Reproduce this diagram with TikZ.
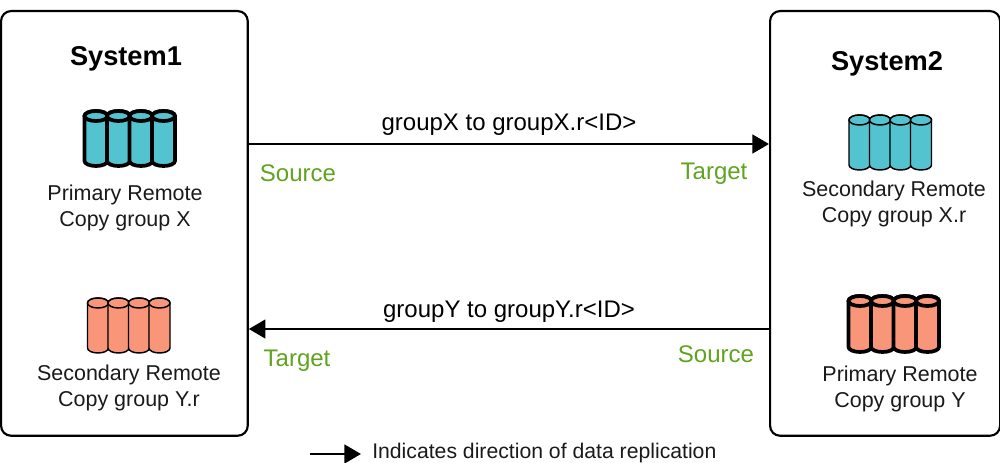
\documentclass[tikz,border=0pt]{standalone}
\usepackage{fontspec}
\setmainfont{Liberation Sans}
\usetikzlibrary{arrows.meta}
\definecolor{cyancyl}{HTML}{52C3CF}
\definecolor{salmoncyl}{HTML}{F9967A}
\definecolor{greenlab}{HTML}{5FA31E}
\definecolor{inkc}{HTML}{1A1A1A}
\tikzset{
  sysbox/.style={draw=black,line width=1.6pt,rounded corners=7.5pt,fill=white,inner sep=0pt,anchor=north west},
  title/.style={font=\fontsize{20.4}{22}\selectfont\bfseries,text=black,inner sep=0pt},
  lab/.style={font=\fontsize{16.1}{19.5}\selectfont,text=inkc,align=center,inner sep=0pt},
  role/.style={font=\fontsize{18}{20}\selectfont,text=greenlab,inner sep=0pt},
  flow/.style={font=\fontsize{18}{20}\selectfont,text=black,inner sep=0pt},
  note/.style={font=\fontsize{15.9}{18}\selectfont,text=inkc,inner sep=0pt,anchor=west},
  conn/.style={draw=black,line width=2pt,-{Triangle[length=12.5pt,width=14pt]}},
}
% \cylrow{left}{top}{pitch}{width}{height}{colour}{line width}
\newcommand{\cylrow}[7]{%
  \foreach \i in {0,1,2,3}{%
    \pgfmathsetmacro{\xl}{#1+\i*#3}%
    \pgfmathsetmacro{\xr}{\xl+#4}%
    \pgfmathsetmacro{\xm}{\xl+#4/2}%
    \pgfmathsetmacro{\yt}{#2+5}%
    \pgfmathsetmacro{\yb}{#2+#5-5}%
    \draw[draw=black,line width=#7,fill=#6,line join=round]
      (\xl,\yt) -- (\xl,\yb) arc[start angle=180,end angle=0,x radius=#4/2,y radius=5]
      -- (\xr,\yt) arc[start angle=0,end angle=-180,x radius=#4/2,y radius=5] -- cycle;
    \draw[draw=black,line width=#7,fill=#6]
      (\xm,\yt) ellipse[x radius=#4/2,y radius=5];
  }%
}
\begin{document}
\begin{tikzpicture}[x=0.75pt,y=-0.75pt]
\useasboundingbox (0,0) rectangle (1000,463);
\node[sysbox,minimum width=185pt,minimum height=318.5pt] (sys1) at (0,10) {};
\node[sysbox,minimum width=172.5pt,minimum height=318.5pt] (sys2) at (769,10) {};
\node[title] (t1) at (126,59) {System1};
\node[title] (t2) at (887,64) {System2};
\cylrow{84.5}{111}{22.5}{23}{55}{cyancyl}{2.8pt}
\cylrow{87.5}{298}{20.5}{21}{55}{salmoncyl}{1.1pt}
\cylrow{849}{115}{20.5}{21}{55}{cyancyl}{1.1pt}
\cylrow{848.5}{296}{22.5}{23}{56}{salmoncyl}{2.8pt}
\node[lab] (l1) at (125,208) {Primary Remote\\Copy group X};
\node[lab] (l2) at (129,388) {Secondary Remote\\Copy group Y.r};
\node[lab] (l3) at (894,203.5) {Secondary Remote\\Copy group X.r};
\node[lab] (l4) at (900,389) {Primary Remote\\Copy group Y};
\coordinate (a1) at (sys1.east |- 0,144);
\coordinate (a2) at (sys2.west |- 0,144);
\coordinate (b1) at (sys2.west |- 0,329);
\coordinate (b2) at (sys1.east |- 0,329);
\draw[conn] (a1) -- (a2);
\draw[conn] (b1) -- (b2);
\node[flow] (f1) at (509,125) {groupX to groupX.r<ID>};
\node[flow] (f2) at (509,312) {groupY to groupY.r<ID>};
\node[role] (s1) at (298,173) {Source};
\node[role] (r1) at (714,173.5) {Target};
\node[role] (r2) at (297,360.5) {Target};
\node[role] (s2) at (716,354) {Source};
\coordinate (n1) at (310,454);
\coordinate (n2) at (361,454);
\draw[conn] (n1) -- (n2);
\node[note] (n3) at (372,453.5) {Indicates direction of data replication};
\end{tikzpicture}
\end{document}
